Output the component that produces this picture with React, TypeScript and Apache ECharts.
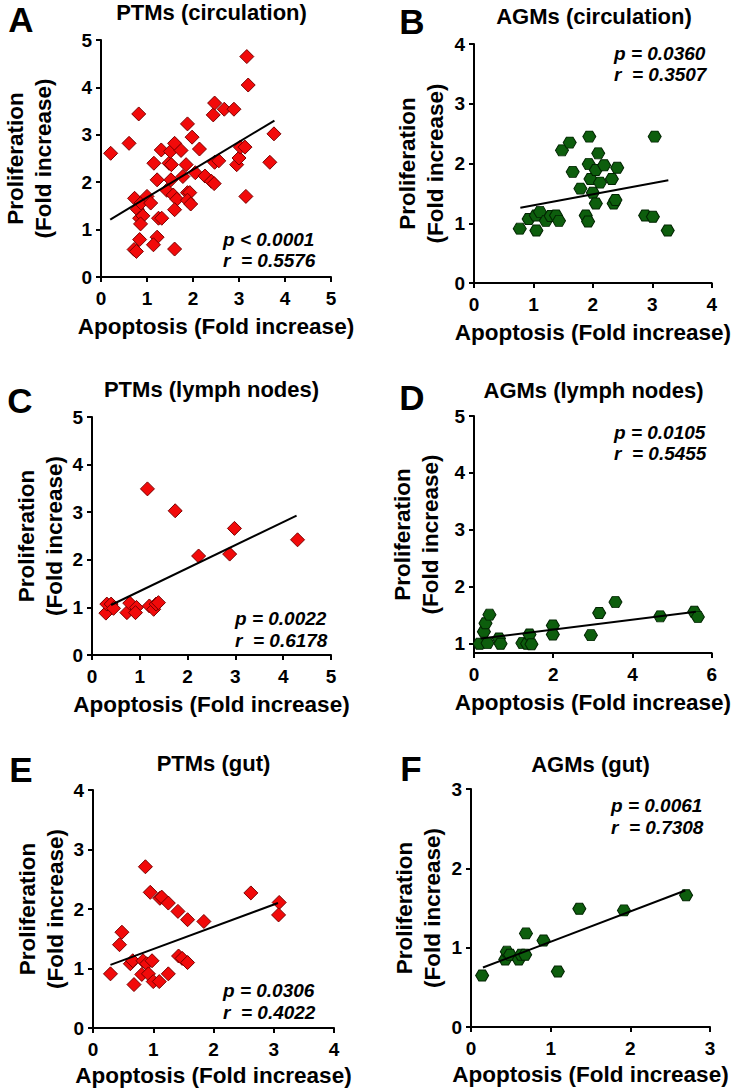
import React, { useEffect, useRef } from "react";
import * as echarts from "echarts";

// ---------- Text ----------
const panelLetters = ["A", "B", "C", "D", "E", "F"];
const panelTitles = [
  "PTMs (circulation)",
  "AGMs (circulation)",
  "PTMs (lymph nodes)",
  "AGMs (lymph nodes)",
  "PTMs (gut)",
  "AGMs (gut)",
];
const pTexts = ["p < 0.0001", "p = 0.0360", "p = 0.0022", "p = 0.0105", "p = 0.0306", "p = 0.0061"];
const rTexts = ["r  = 0.5576", "r  = 0.3507", "r  = 0.6178", "r  = 0.5455", "r  = 0.4022", "r  = 0.7308"];
const xTitle = "Apoptosis (Fold increase)";
const yTitle = "Proliferation\n(Fold increase)";

// ---------- Axis ranges ----------
const xMaxs = [5, 4, 5, 6, 4, 3];
const xIntervals = [1, 1, 1, 2, 1, 1];
const yMins = [0, 0, 0, 0.836, 0, 0];
const yMaxs = [5, 4, 5, 5, 4, 3];
const yTicksD = [1, 2, 3, 4, 5];

// ---------- Data ----------
// A: PTMs (circulation)
const aApoptosis = [0.21, 0.61, 0.82, 0.73, 0.79, 0.87, 0.84, 0.91, 0.86, 1.0, 1.08, 0.84, 0.72, 0.77, 1.15, 1.22, 1.31, 1.22, 1.14, 1.25, 1.32, 1.43, 1.48, 1.53, 1.51, 1.6, 1.52, 1.57, 1.65, 1.6, 1.6, 1.74, 1.78, 1.85, 1.88, 1.88, 1.93, 1.88, 1.95, 1.98, 2.05, 2.14, 2.26, 2.4, 2.46, 2.44, 2.47, 2.47, 2.56, 2.68, 2.89, 2.95, 3.0, 3.03, 3.13, 3.17, 3.2, 3.15, 3.67, 3.76];
const aProliferation = [2.61, 2.82, 3.44, 1.66, 1.43, 1.56, 1.24, 1.29, 1.12, 1.7, 1.56, 0.79, 0.58, 0.54, 2.4, 2.05, 2.68, 0.84, 0.68, 1.24, 1.24, 1.83, 2.4, 2.37, 2.65, 2.82, 2.05, 1.73, 1.64, 1.42, 0.59, 2.67, 2.12, 2.37, 3.23, 1.78, 1.78, 1.62, 1.54, 2.95, 2.2, 2.7, 2.13, 2.02, 1.97, 3.42, 3.67, 2.42, 2.45, 3.54, 3.54, 2.37, 2.51, 2.74, 2.74, 4.65, 4.05, 1.7, 2.42, 3.02];
const aFitX = [0.2, 3.77];
const aFitY = [1.21, 3.3];

// B: AGMs (circulation)
const bApoptosis = [0.77, 0.92, 1.04, 1.05, 1.11, 1.21, 1.29, 1.38, 1.43, 1.48, 1.61, 1.66, 1.79, 1.88, 1.92, 1.94, 1.93, 1.96, 2.0, 2.05, 2.05, 2.09, 2.12, 2.19, 2.32, 2.35, 2.38, 2.41, 2.88, 3.01, 3.04, 3.26];
const bProliferation = [0.91, 1.07, 1.13, 0.88, 1.19, 1.04, 1.12, 1.13, 1.04, 2.22, 2.35, 1.86, 1.58, 1.13, 1.03, 2.45, 1.99, 1.74, 1.51, 1.89, 1.33, 2.17, 1.68, 1.97, 1.74, 1.33, 1.39, 1.93, 1.13, 1.11, 2.45, 0.88];
const bFitX = [0.78, 3.27];
const bFitY = [1.26, 1.72];

// C: PTMs (lymph nodes)
const cApoptosis = [0.29, 0.31, 0.4, 0.45, 0.73, 0.79, 0.93, 0.91, 1.2, 1.29, 1.34, 1.39, 1.16, 1.74, 2.23, 2.88, 2.98, 4.3];
const cProliferation = [0.88, 1.07, 1.07, 0.98, 0.89, 1.09, 1.0, 0.89, 1.03, 0.96, 1.07, 1.1, 3.49, 3.03, 2.08, 2.12, 2.66, 2.42];
const cFitX = [0.4, 4.28];
const cFitY = [1.05, 2.93];

// D: AGMs (lymph nodes)
const dApoptosis = [0.14, 0.25, 0.29, 0.39, 0.34, 0.63, 0.67, 1.22, 1.34, 1.4, 1.45, 1.99, 1.99, 2.95, 3.16, 3.57, 4.7, 5.56, 5.65];
const dProliferation = [1.0, 1.21, 1.36, 1.51, 1.01, 1.09, 1.0, 1.01, 1.0, 1.16, 0.99, 1.32, 1.16, 1.15, 1.54, 1.73, 1.48, 1.56, 1.47];
const dFitX = [0.17, 5.6];
const dFitY = [1.09, 1.56];

// E: PTMs (gut)
const eApoptosis = [0.29, 0.44, 0.48, 0.62, 0.66, 0.68, 0.83, 0.81, 0.89, 0.92, 0.98, 1.0, 0.87, 0.95, 1.11, 1.14, 1.25, 1.1, 1.25, 1.41, 1.42, 1.48, 1.57, 1.57, 1.84, 2.62, 3.09, 3.08];
const eProliferation = [0.91, 1.4, 1.61, 1.08, 1.13, 0.73, 1.13, 0.9, 1.08, 0.91, 1.13, 0.78, 2.71, 2.28, 2.18, 2.2, 2.1, 0.78, 0.91, 1.96, 1.21, 1.17, 1.82, 1.1, 1.79, 2.27, 2.11, 1.9];
const eFitX = [0.29, 3.07];
const eFitY = [1.06, 2.1];

// F: AGMs (gut)
const fApoptosis = [0.14, 0.43, 0.45, 0.49, 0.6, 0.63, 0.68, 0.69, 0.91, 1.09, 1.36, 1.92, 2.7];
const fProliferation = [0.65, 0.85, 0.95, 0.91, 0.85, 0.91, 0.91, 1.18, 1.09, 0.7, 1.49, 1.47, 1.66];
const fFitX = [0.15, 2.69];
const fFitY = [0.75, 1.72];

const apoptosisSets = [aApoptosis, bApoptosis, cApoptosis, dApoptosis, eApoptosis, fApoptosis];
const proliferationSets = [aProliferation, bProliferation, cProliferation, dProliferation, eProliferation, fProliferation];
const fitXSets = [aFitX, bFitX, cFitX, dFitX, eFitX, fFitX];
const fitYSets = [aFitY, bFitY, cFitY, dFitY, eFitY, fFitY];
const isPTM = [true, false, true, false, true, false];

// ---------- Layout & style ----------
const FONT = "'Liberation Sans', Arial, Helvetica, sans-serif";
const grids = [
  { left: 92, top: 40, width: 239, height: 237 },
  { left: 474, top: 44, width: 240, height: 239 },
  { left: 92, top: 417, width: 239, height: 238 },
  { left: 474, top: 416, width: 239, height: 237 },
  { left: 93, top: 790, width: 241, height: 238 },
  { left: 471, top: 789, width: 239, height: 238 },
];
const yNameGaps = [44, 25, 22, 30, 22, 25];
const xNameGaps = [35, 35, 35, 35, 33, 33];
const titleY = [12, 16, 389, 390, 763, 764];
const letterPos = [
  [21, 19],
  [412, 21],
  [20, 400],
  [412, 397],
  [21, 769],
  [411, 768],
];
const statPos = [
  [223, 239, 260],
  [614, 53, 74],
  [235, 618, 640],
  [614, 432, 453],
  [223, 990, 1012],
  [611, 805, 827],
];

const HEX = "path://M0,5L3,0L9,0L12,5L9,10L3,10Z";

function buildOption() {
  const xAxis: any[] = [];
  const yAxis: any[] = [];
  const series: any[] = [];
  const graphic: any[] = [];
  const axisLine = { show: true, onZero: false, lineStyle: { color: "#000", width: 2 } };
  const axisTick = { show: true, inside: false, length: 5, lineStyle: { color: "#000", width: 2 } };
  const xAxisLabel = { color: "#000", fontSize: 19, fontWeight: "bold", fontFamily: FONT, margin: 12 };
  const yAxisLabel = { color: "#000", fontSize: 19, fontWeight: "bold", fontFamily: FONT, margin: 9 };
  const nameStyle = { color: "#000", fontSize: 22.5, fontWeight: "bold", fontFamily: FONT, lineHeight: 28 };

  for (let i = 0; i < 6; i++) {
    xAxis.push({
      type: "value",
      gridIndex: i,
      min: 0,
      max: xMaxs[i],
      interval: xIntervals[i],
      axisLine,
      axisTick,
      axisLabel: xAxisLabel,
      splitLine: { show: false },
      name: xTitle,
      nameLocation: "middle",
      nameGap: xNameGaps[i],
      nameTextStyle: nameStyle,
    });
    const y: any = {
      type: "value",
      gridIndex: i,
      min: yMins[i],
      max: yMaxs[i],
      axisLine,
      axisTick,
      axisLabel: yAxisLabel,
      splitLine: { show: false },
      name: yTitle,
      nameLocation: "middle",
      nameGap: yNameGaps[i],
      nameTextStyle: nameStyle,
    };
    if (i === 3) {
      y.axisLabel = { ...yAxisLabel, customValues: yTicksD };
      y.axisTick = { ...axisTick, customValues: yTicksD };
    } else {
      y.interval = 1;
    }
    yAxis.push(y);

    const pts = apoptosisSets[i].map((x, k) => [x, proliferationSets[i][k]]);
    series.push({
      type: "scatter",
      xAxisIndex: i,
      yAxisIndex: i,
      data: pts,
      symbol: isPTM[i] ? "diamond" : HEX,
      symbolSize: isPTM[i] ? [14, 14] : [13, 11],
      itemStyle: isPTM[i]
        ? { color: "#f20a0a", borderColor: "#7a0000", borderWidth: 1, opacity: 1 }
        : { color: "#0d5e0d", borderColor: "#022402", borderWidth: 1, opacity: 1 },
      z: 2,
    });
    series.push({
      type: "line",
      xAxisIndex: i,
      yAxisIndex: i,
      data: fitXSets[i].map((x, k) => [x, fitYSets[i][k]]),
      showSymbol: false,
      symbol: "none",
      lineStyle: { color: "#000", width: 2 },
      z: 3,
    });

    const g = grids[i];
    graphic.push({
      type: "text",
      x: g.left + g.width / 2,
      y: titleY[i],
      style: {
        text: panelTitles[i],
        fill: "#000",
        fontSize: 22,
        fontWeight: "bold",
        fontFamily: FONT,
        align: "center",
        verticalAlign: "middle",
      },
    });
    graphic.push({
      type: "text",
      x: letterPos[i][0],
      y: letterPos[i][1],
      style: {
        text: panelLetters[i],
        fill: "#000",
        fontSize: 35,
        fontWeight: "bold",
        fontFamily: FONT,
        align: "center",
        verticalAlign: "middle",
      },
    });
    graphic.push({
      type: "text",
      x: statPos[i][0],
      y: statPos[i][1],
      style: {
        text: pTexts[i],
        fill: "#000",
        fontSize: 19,
        fontWeight: "bold",
        fontStyle: "italic",
        fontFamily: FONT,
        align: "left",
        verticalAlign: "middle",
      },
    });
    graphic.push({
      type: "text",
      x: statPos[i][0],
      y: statPos[i][2],
      style: {
        text: rTexts[i],
        fill: "#000",
        fontSize: 19,
        fontWeight: "bold",
        fontStyle: "italic",
        fontFamily: FONT,
        align: "left",
        verticalAlign: "middle",
      },
    });
  }

  return {
    animation: false,
    backgroundColor: "#fff",
    grid: grids.map((g) => ({ ...g, containLabel: false })),
    xAxis,
    yAxis,
    series,
    graphic,
  };
}

export default function App() {
  const ref = useRef<HTMLDivElement>(null);
  useEffect(() => {
    document.body.style.margin = "0";
    const chart = echarts.init(ref.current!, null, { renderer: "svg" });
    chart.setOption(buildOption() as any);
    return () => chart.dispose();
  }, []);
  return (
    <div
      ref={ref}
      style={{ position: "absolute", left: 0, top: 0, width: 733, height: 1091, background: "#fff" }}
    />
  );
}
